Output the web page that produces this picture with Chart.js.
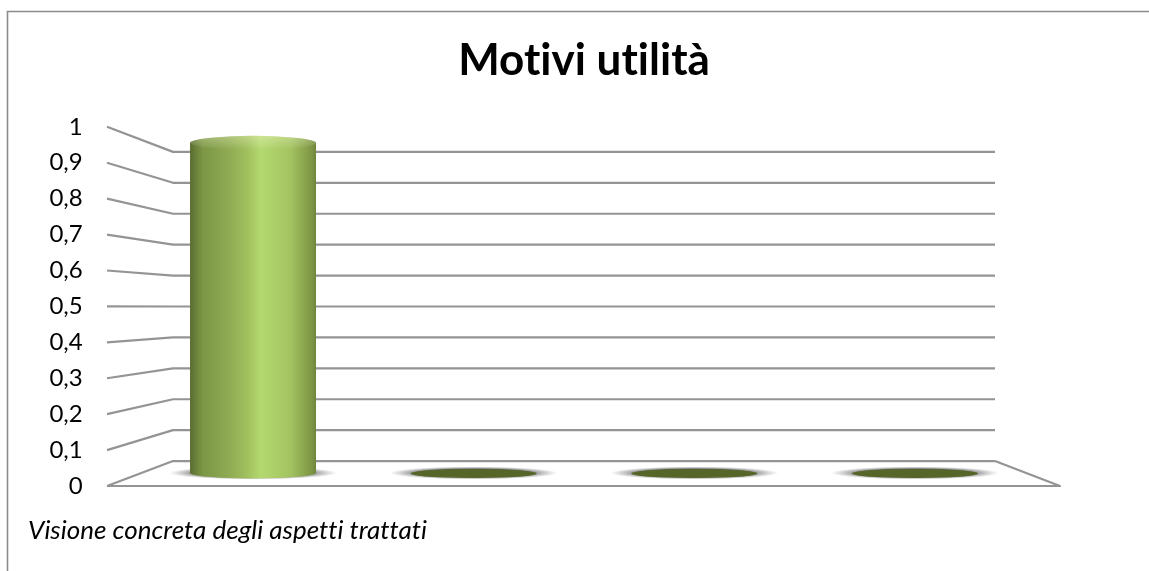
<!DOCTYPE html>
<html>
<head>
<meta charset="utf-8">
<style>
  html, body { margin: 0; padding: 0; background: #fff; }
  canvas { display: block; }
</style>
<script src="https://cdn.jsdelivr.net/npm/chart.js@4"></script>
</head>
<body>
<canvas id="mainChart" width="1149" height="571"></canvas>
<script>
const chartTitle = "Motivi utilità";
const categories = ["Visione concreta degli aspetti trattati", "", "", ""];
const seriesValues = [1, 0, 0, 0];
const yTickLabels = ["0", "0,1", "0,2", "0,3", "0,4", "0,5", "0,6", "0,7", "0,8", "0,9", "1"];

var lineColor = "#949494";
var frontLeft = 107, frontRight = 1060, backLeft = 173, backRight = 995;
var wallCenter = 307, backScale = 309 / 359;

function backY(y) {
  return wallCenter + (y - wallCenter) * backScale;
}

function barEdges(chart, i) {
  var x = chart.scales.x;
  var half = (x.width / categories.length) * 0.571 / 2;
  var mid = x.getPixelForValue(i);
  return { left: mid - half, right: mid + half, half: half, mid: mid };
}

function bodyGradient(ctx, e) {
  var g = ctx.createLinearGradient(e.left, 0, e.right, 0);
  g.addColorStop(0, "#5a6d31");
  g.addColorStop(0.1, "#7b9645");
  g.addColorStop(0.3, "#8eaa52");
  g.addColorStop(0.45, "#a0bf5d");
  g.addColorStop(0.56, "#b4d970");
  g.addColorStop(0.8, "#a3c360");
  g.addColorStop(0.97, "#7d9444");
  g.addColorStop(1, "#6f853c");
  return g;
}

function softShadow(ctx, x, y, rx, ry) {
  ctx.save();
  ctx.translate(x, y);
  ctx.scale(1, ry / rx);
  var g = ctx.createRadialGradient(0, 0, rx * 0.62, 0, 0, rx);
  g.addColorStop(0, "rgba(85,85,85,0.9)");
  g.addColorStop(1, "rgba(130,130,130,0)");
  ctx.fillStyle = g;
  ctx.beginPath();
  ctx.arc(0, 0, rx, 0, Math.PI * 2);
  ctx.fill();
  ctx.restore();
}

function ellipse(ctx, x, y, rx, ry, fill) {
  ctx.fillStyle = fill;
  ctx.beginPath();
  ctx.ellipse(x, y, rx, ry, 0, 0, Math.PI * 2);
  ctx.fill();
}

var framePlugin = {
  id: "frame",
  beforeDraw(chart) {
    var ctx = chart.ctx;
    // no "ti" and "tt" ligatures in the labels
    ctx.letterSpacing = "0.01px";
    ctx.save();
    ctx.fillStyle = "#fff";
    ctx.fillRect(0, 0, chart.width, chart.height);
    ctx.strokeStyle = "#8c8c8c";
    ctx.lineWidth = 1.6;
    ctx.beginPath();
    ctx.moveTo(7.5, chart.height);
    ctx.lineTo(7.5, 11.5);
    ctx.lineTo(chart.width, 11.5);
    ctx.stroke();
    ctx.restore();
  }
};

// back wall, side wall and floor, all follow the y axis ticks
var wallPlugin = {
  id: "walls",
  beforeDatasetsDraw(chart) {
    var ctx = chart.ctx;
    var y = chart.scales.y;
    ctx.save();
    ctx.strokeStyle = lineColor;
    ctx.lineWidth = 2.2;
    ctx.lineJoin = "round";
    y.ticks.forEach(function (t) {
      var p = y.getPixelForValue(t.value);
      ctx.beginPath();
      ctx.moveTo(frontLeft, p);
      ctx.lineTo(backLeft, backY(p));
      ctx.lineTo(backRight, backY(p));
      ctx.stroke();
    });
    var floor = y.getPixelForValue(0);
    ctx.beginPath();
    ctx.moveTo(frontLeft, floor);
    ctx.lineTo(frontRight, floor);
    ctx.lineTo(backRight, backY(floor));
    ctx.stroke();
    // shadows sit on the floor under each cylinder
    var barY = chart.scales.yBar;
    seriesValues.forEach(function (v, i) {
      var e = barEdges(chart, i);
      softShadow(ctx, e.mid, barY.getPixelForValue(0), e.half + 21, 6.5);
    });
    ctx.restore();
  }
};

// caps of the cylinders on top of the library's bars
var cylinderPlugin = {
  id: "cylinders",
  afterDatasetsDraw(chart) {
    var ctx = chart.ctx;
    var barY = chart.scales.yBar;
    ctx.save();
    seriesValues.forEach(function (v, i) {
      var e = barEdges(chart, i);
      var base = barY.getPixelForValue(0);
      if (v > 0) {
        var top = barY.getPixelForValue(v);
        var body = bodyGradient(ctx, e);
        ellipse(ctx, e.mid, base, e.half, 5.5, body);
        ellipse(ctx, e.mid, top, e.half, 7, body);
        var glow = ctx.createLinearGradient(0, top - 7, 0, top + 7);
        glow.addColorStop(0, "rgba(255,255,225,0.32)");
        glow.addColorStop(1, "rgba(255,255,225,0)");
        ellipse(ctx, e.mid, top, e.half, 7, glow);
      } else {
        ellipse(ctx, e.mid, base + 0.5, e.half, 4.5, "#556628");
      }
    });
    ctx.restore();
  }
};

var ctx = document.getElementById("mainChart").getContext("2d");
new Chart(ctx, {
  type: "bar",
  data: {
    labels: categories,
    datasets: [
      {
        data: seriesValues,
        yAxisID: "yBar",
        categoryPercentage: 1,
        barPercentage: 0.571,
        backgroundColor: function (c) {
          var e = barEdges(c.chart, c.dataIndex || 0);
          if (!isFinite(e.left) || !isFinite(e.right)) return "#98b555";
          return bodyGradient(c.chart.ctx, e);
        }
      }
    ]
  },
  options: {
    responsive: false,
    animation: false,
    layout: { padding: { left: 28, right: 123.7, top: 0, bottom: 0 } },
    plugins: {
      legend: { display: false },
      tooltip: { enabled: false },
      title: {
        display: true,
        text: chartTitle,
        fullSize: false,
        color: "#000",
        font: { family: "Lato, 'Noto Sans', sans-serif", size: 44, weight: "bold", lineHeight: 1.2 },
        padding: { top: 34, bottom: 40 }
      },
      subtitle: {
        display: true,
        position: "bottom",
        align: "start",
        text: categories[0],
        color: "#000",
        font: { family: "Lato, 'Noto Sans', sans-serif", size: 26, style: "italic", weight: "normal", lineHeight: 1.2 },
        padding: { top: 29.4, bottom: 24.4 }
      }
    },
    scales: {
      x: { display: false },
      y: {
        min: 0,
        max: 1,
        afterFit: function (s) { s.width = 114.7; },
        grid: { display: false, drawTicks: false },
        border: { display: false },
        ticks: {
          stepSize: 0.1,
          padding: 60,
          color: "#000",
          font: { family: "Lato, 'Noto Sans', sans-serif", size: 24 },
          callback: function (v, i) { return yTickLabels[i]; }
        }
      },
      yBar: {
        display: false,
        min: -0.0395,
        max: 1.0486
      }
    }
  },
  plugins: [framePlugin, wallPlugin, cylinderPlugin]
});
</script>
</body>
</html>
